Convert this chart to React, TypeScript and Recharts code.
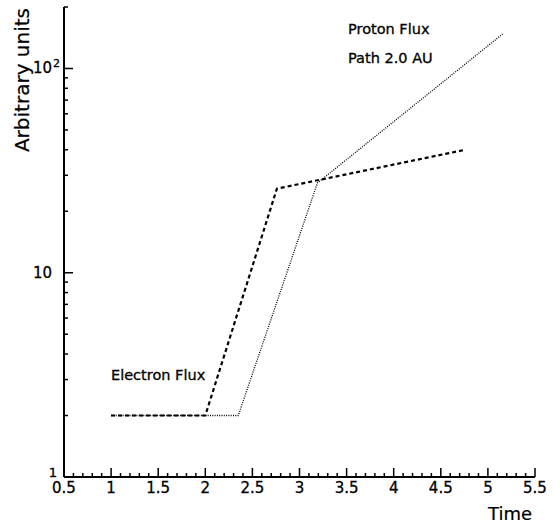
import React from 'react';
import { LineChart, Line, XAxis, YAxis } from 'recharts';

// values (log y axis)
const electronTime = [1, 2.0, 2.76, 4.76];
const electronFlux = [2, 2, 25.8, 40];
const protonTime = [1, 2.35, 3.19, 5.16];
const protonFlux = [2, 2, 27.5, 148];

const xMajorTicks = [0.5, 1, 1.5, 2, 2.5, 3, 3.5, 4, 4.5, 5, 5.5];
const xTicks = Array.from({ length: 51 }, (_, i) => Math.round((0.5 + i * 0.1) * 10) / 10);
const yMajorTicks = [1, 10, 100];
const yTicks = [1, 2, 3, 4, 5, 6, 7, 8, 9, 10, 20, 30, 40, 50, 60, 70, 80, 90, 100, 200];

const electronData = electronTime.map((t, i) => ({ time: t, flux: electronFlux[i] }));
const protonData = protonTime.map((t, i) => ({ time: t, flux: protonFlux[i] }));

const FONT = '"DejaVu Sans", Verdana, sans-serif';
const txt = { fontFamily: FONT, fill: '#000', stroke: '#000', strokeWidth: 0.3 };

const XTick = (props: any) => {
  const { x, y, payload } = props;
  const v = payload.value;
  const major = xMajorTicks.some(m => Math.abs(m - v) < 1e-6);
  return (
    <g>
      <line x1={x} x2={x} y1={y} y2={y - (major ? 9 : 4)} stroke="#000" strokeWidth={1.5} />
      {major && (
        <text x={x} y={y + 16} textAnchor="middle" fontSize={15} {...txt}>
          {v}
        </text>
      )}
    </g>
  );
};

const YTick = (props: any) => {
  const { x, y, payload } = props;
  const v = payload.value;
  const major = yMajorTicks.includes(v);
  let label: React.ReactNode = null;
  if (v === 1) {
    label = <text x={x - 7} y={y} textAnchor="end" fontSize={13} {...txt}>1</text>;
  } else if (v === 10) {
    label = <text x={x - 12} y={y + 5.5} textAnchor="end" fontSize={15} {...txt}>10</text>;
  } else if (v === 100) {
    label = (
      <g>
        <text x={x - 12} y={y + 5} textAnchor="end" fontSize={15} {...txt}>10</text>
        <text x={x - 11} y={y - 1} fontSize={11} {...txt}>2</text>
      </g>
    );
  }
  return (
    <g>
      <line x1={x} x2={x + (major ? 9 : 4)} y1={y} y2={y} stroke="#000" strokeWidth={1.5} />
      {label}
    </g>
  );
};

export default function App() {
  return (
    <div style={{ position: 'absolute', left: 0, top: 0, width: 560, height: 524, background: '#fff' }}>
      <LineChart width={560} height={524} margin={{ top: 7, right: 25, left: 0, bottom: 0 }}>
        <XAxis
          dataKey="time"
          type="number"
          domain={[0.5, 5.5]}
          ticks={xTicks}
          interval={0}
          allowDuplicatedCategory={false}
          height={47}
          tickSize={0}
          tickMargin={0}
          tickLine={false}
          tick={<XTick />}
          axisLine={{ stroke: '#000', strokeWidth: 2 }}
        />
        <XAxis xAxisId="top" orientation="top" type="number" domain={[0.5, 5.5]} height={0} tick={false} tickLine={false} axisLine={{ stroke: '#000', strokeWidth: 2 }} />
        <YAxis
          dataKey="flux"
          scale="log"
          type="number"
          domain={[1, 200]}
          ticks={yTicks}
          interval={0}
          width={64}
          tickSize={0}
          tickMargin={0}
          tickLine={false}
          tick={<YTick />}
          allowDataOverflow
          axisLine={{ stroke: '#000', strokeWidth: 2 }}
        />
        <YAxis yAxisId="right" orientation="right" width={0} tick={false} tickLine={false} axisLine={{ stroke: '#000', strokeWidth: 2 }} />
        <Line
          data={electronData}
          dataKey="flux"
          type="linear"
          stroke="#000"
          strokeWidth={2.2}
          strokeDasharray="4 3"
          dot={false}
          isAnimationActive={false}
        />
        <Line
          data={protonData}
          dataKey="flux"
          type="linear"
          stroke="#000"
          strokeWidth={1.3}
          strokeDasharray="1 1.3"
          dot={false}
          isAnimationActive={false}
        />
      </LineChart>
      <svg width={560} height={524} style={{ position: 'absolute', left: 0, top: 0, pointerEvents: 'none' }}>
        <text x={348} y={34} fontSize={14.5} {...txt}>Proton Flux</text>
        <text x={348} y={63} fontSize={14.5} {...txt}>Path 2.0 AU</text>
        <text x={111} y={380} fontSize={14.5} {...txt}>Electron Flux</text>
        <text x={532} y={520} textAnchor="end" fontSize={18} {...txt} strokeWidth={0.2}>Time</text>
        <text x={29} y={8} textAnchor="end" fontSize={20} {...txt} strokeWidth={0.2} transform="rotate(-90 29 8)">Arbitrary units</text>
      </svg>
    </div>
  );
}
